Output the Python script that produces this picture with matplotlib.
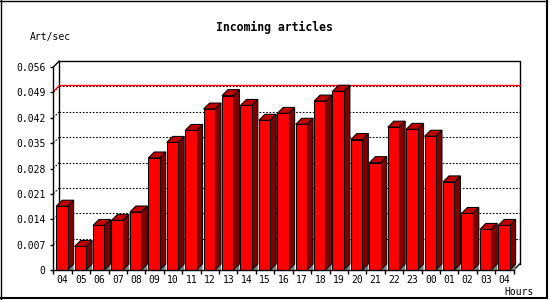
import matplotlib
matplotlib.use("Agg")
import matplotlib.pyplot as plt
from matplotlib.patches import Rectangle, Polygon
from matplotlib.lines import Line2D

hours = ['04', '05', '06', '07', '08', '09', '10', '11', '12', '13', '14', '15',
         '16', '17', '18', '19', '20', '21', '22', '23', '00', '01', '02', '03', '04']
values = [0.0176, 0.0065, 0.0123, 0.0137, 0.0160, 0.0309, 0.0352, 0.0385, 0.0444,
          0.0481, 0.0454, 0.0413, 0.0432, 0.0402, 0.0466, 0.0493, 0.0360, 0.0296,
          0.0394, 0.0388, 0.0369, 0.0243, 0.0156, 0.0112, 0.0123]
ytick_vals = [0, 0.007, 0.014, 0.021, 0.028, 0.035, 0.042, 0.049, 0.056]
ytick_labels = ['0', '0.007', '0.014', '0.021', '0.028', '0.035', '0.042', '0.049', '0.056']
max_line = max(values)

W, H = 550, 300
FONT = 'DejaVu Sans Mono'
fig = plt.figure(figsize=(W / 100, H / 100), dpi=100)
fig.patch.set_facecolor('white')

x0px, x1px = 53.3, 513.7
ybot, ytop = 270, 67
ax = fig.add_axes([x0px / W, 1 - ybot / H, (x1px - x0px) / W, (ybot - ytop) / H])
n = len(hours)
ymax = 0.056
ax.set_xlim(0, n)
ax.set_ylim(0, ymax)
ax.set_facecolor('none')

depth_px = 6
dx = depth_px * n / (x1px - x0px)
dy = depth_px * ymax / (ybot - ytop)

# back wall
ax.add_line(Line2D([dx, dx, n + dx, n + dx], [dy, ymax + dy, ymax + dy, dy],
                   color='black', lw=1, clip_on=False, zorder=1))
ax.add_line(Line2D([0, dx], [ymax, ymax + dy], color='black', lw=1, clip_on=False, zorder=1))
ax.add_line(Line2D([n, n + dx], [0, dy], color='black', lw=1, clip_on=False, zorder=1))

# gridlines on back wall
for v in ytick_vals[1:-1]:
    ax.add_line(Line2D([dx, n + dx], [v + dy, v + dy], color='black', lw=0.8,
                       dashes=(1.5, 1.5), clip_on=False, zorder=1, snap=True))
    ax.add_line(Line2D([0, dx], [v, v + dy], color='black', lw=0.8,
                       dashes=(1.5, 1.5), clip_on=False, zorder=1))

# max line
ax.add_line(Line2D([0, dx, n + dx], [max_line, max_line + dy, max_line + dy],
                   color='#FF0000', lw=1.0, clip_on=False, zorder=1.5, snap=True))

# 3D bars
bw = 0.62
off = 0.16
for i, v in enumerate(values):
    xl = i + off
    xr = xl + bw
    ax.add_patch(Polygon([(xr, 0), (xr + dx, dy), (xr + dx, 0)], closed=True,
                         fc='#808080', ec='none', clip_on=False, zorder=2))
    ax.add_patch(Polygon([(xr, 0), (xr + dx, dy), (xr + dx, v + dy), (xr, v)], closed=True,
                         fc='#800000', ec='black', lw=0.75, clip_on=False, zorder=3))
    ax.add_patch(Polygon([(xl, v), (xl + dx, v + dy), (xr + dx, v + dy), (xr, v)], closed=True,
                         fc='#C00000', ec='black', lw=0.75, clip_on=False, zorder=3))
    ax.add_patch(Rectangle((xl, 0), bw, v, fc='#FF0000', ec='black', lw=0.75,
                           clip_on=False, zorder=4))

# spines and ticks
for s in ['top', 'right']:
    ax.spines[s].set_visible(False)
for s in ['left', 'bottom']:
    ax.spines[s].set_linewidth(1)
    ax.spines[s].set_zorder(5)

ax.set_yticks(ytick_vals)
ax.set_yticklabels(ytick_labels, fontfamily=FONT, fontsize=7)
ax.tick_params(axis='y', length=2.4, width=1, pad=3.2, direction='out')

ax.set_xticks(range(n + 1))
ax.set_xticklabels([])
ax.tick_params(axis='x', which='major', length=3, width=1, direction='out')
ax.set_xticks([i + 0.5 for i in range(n)], minor=True)
ax.set_xticklabels(hours, minor=True, fontfamily=FONT, fontsize=7)
ax.tick_params(axis='x', which='minor', length=0, pad=3.5)

# texts
fig.text(274 / W, 1 - 27 / H, 'Incoming articles', ha='center', va='center',
         fontfamily=FONT, fontsize=8.3, fontweight='bold')
fig.text(30 / W, 1 - 37 / H, 'Art/sec', ha='left', va='center', fontfamily=FONT, fontsize=7)
fig.text(504 / W, 1 - 292 / H, 'Hours', ha='left', va='center', fontfamily=FONT, fontsize=7)

# outer border
fig.add_artist(Line2D([0.5 / W, 0.5 / W], [0, 1], color='black', lw=1, transform=fig.transFigure))
fig.add_artist(Line2D([0, 547 / W], [1 - 0.5 / H, 1 - 0.5 / H], color='black', lw=1, transform=fig.transFigure))
fig.add_artist(Line2D([547 / W, 547 / W], [1 - 298 / H, 1], color='black', lw=1.5, transform=fig.transFigure))
fig.add_artist(Line2D([0, 547 / W], [1 - 298 / H, 1 - 298 / H], color='black', lw=1.5, transform=fig.transFigure))

fig.savefig('out.png', dpi=100)
